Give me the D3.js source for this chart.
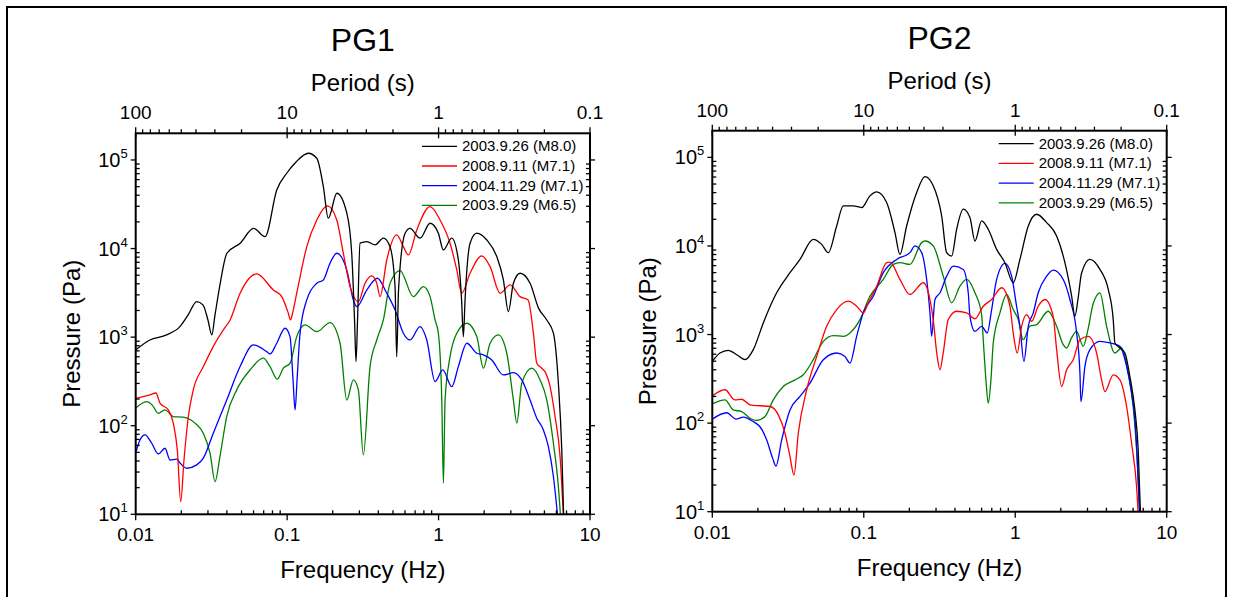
<!DOCTYPE html>
<html><head><meta charset="utf-8">
<script src="https://cdn.jsdelivr.net/npm/d3@7"></script>
<style>body{margin:0;background:#fff;} svg{display:block;} text{font-family:"Liberation Sans",Arial,Helvetica,sans-serif;fill:#000;}</style>
</head><body><svg id="c" width="1233" height="597"></svg>
<script>
// ---------------- data ----------------
const seriesNames = ["2003.9.26 (M8.0)", "2008.9.11 (M7.1)", "2004.11.29 (M7.1)", "2003.9.29 (M6.5)"];
const seriesColors = ["#000000", "#ff0000", "#0000ff", "#008000"];
const panelTitles = ["PG1", "PG2"];
const freqTicks = [0.01, 0.1, 1, 10];
const freqTickLabels = ["0.01", "0.1", "1", "10"];
const periodTicks = [100, 10, 1, 0.1];
const periodTickLabels = ["100", "10", "1", "0.1"];
const pressureTicks = [10, 100, 1000, 10000, 100000];
const pressureTickExponents = ["1", "2", "3", "4", "5"];

// PG1 spectra: [frequency Hz, pressure Pa]
const pg1_20030926 = [[0.01,718],[0.0124,929],[0.016,1060],[0.0196,1315],[0.0222,1780],[0.0253,2520],[0.0278,2310],[0.030,1560],[0.0318,1060],[0.0334,1780],[0.036,3880],[0.040,8850],[0.049,11500],[0.060,16900],[0.0715,13600],[0.0854,45800],[0.0994,70800],[0.1145,94900],[0.138,119000],[0.157,104500],[0.1734,50000],[0.187,22000],[0.213,42100],[0.248,25000],[0.267,8850],[0.2787,1560],[0.2851,530],[0.2917,1560],[0.303,11500],[0.336,12000],[0.381,11000],[0.432,13100],[0.478,10500],[0.516,3700],[0.529,600],[0.544,3400],[0.601,14900],[0.648,16900],[0.755,13100],[0.879,19300],[0.997,14900],[1.076,9640],[1.222,13100],[1.351,7430],[1.419,2630],[1.458,1010],[1.496,2630],[1.614,11500],[1.788,14900],[2.081,12500],[2.424,8100],[2.679,4420],[2.891,1940],[3.119,4060],[3.453,5260],[4.022,4060],[4.563,2140],[5.184,1560],[5.732,1110],[6.184,300],[6.511,53],[6.74,6.7]];
const pg1_20080911 = [[0.01,204],[0.0124,223],[0.0136,234],[0.01447,180],[0.01642,151],[0.01771,107],[0.01883,53],[0.01983,13.9],[0.02084,41],[0.02226,127],[0.024,254],[0.028,465],[0.0325,782],[0.0379,1206],[0.042,1563],[0.0489,3130],[0.063,5165],[0.0811,3410],[0.0921,2865],[0.1018,1862],[0.1053,1563],[0.1086,1862],[0.1157,3130],[0.1348,10500],[0.157,21020],[0.1844,30260],[0.2127,21020],[0.235,8850],[0.2604,3715],[0.2953,2518],[0.327,4056],[0.3622,4909],[0.3907,4056],[0.4108,2865],[0.4549,7430],[0.5294,14240],[0.5855,10500],[0.6317,8470],[0.7178,16220],[0.8788,29700],[1.023,21020],[1.191,11480],[1.319,5735],[1.423,3130],[1.614,5260],[1.929,8250],[2.189,6250],[2.548,3130],[2.968,3882],[3.453,2865],[3.9,2630],[4.229,1107],[4.453,507],[4.805,446],[5.052,405],[5.45,276],[5.88,127],[6.345,44.8],[6.74,6.7]];
const pg1_20041129 = [[0.01,49],[0.01067,69],[0.01152,78.8],[0.01276,63.4],[0.01411,48],[0.01561,55.7],[0.01685,41],[0.01866,41.9],[0.01962,38],[0.02172,33.1],[0.02528,36.1],[0.02796,43],[0.03254,82.3],[0.0399,195],[0.0489,465],[0.0598,817],[0.0733,686],[0.0771,646],[0.0854,853],[0.0969,1260],[0.1045,1014],[0.1094,329],[0.1128,151],[0.1163,329],[0.1217,1107],[0.1348,2630],[0.157,4056],[0.1734,4423],[0.192,6825],[0.2127,8850],[0.2476,5735],[0.2737,2630],[0.2883,2208],[0.3357,3404],[0.3943,4620],[0.4549,3130],[0.5161,2028],[0.5855,1107],[0.6483,929],[0.7547,1315],[0.8356,929],[0.9483,315],[1.066,426],[1.222,276],[1.351,465],[1.536,853],[1.788,658],[1.977,630],[2.245,553],[2.679,374],[3.119,398],[3.543,329],[4.022,195],[4.453,121.6],[4.923,89.7],[5.312,58],[5.732,26.7],[6.15,8.6]];
const pg1_20030929 = [[0.01,158],[0.01182,187],[0.01282,172],[0.01411,138],[0.01561,151],[0.01771,127],[0.02062,125],[0.02464,107],[0.02796,82.3],[0.03097,49],[0.03342,23.4],[0.036,44.8],[0.0399,127],[0.04647,254],[0.0569,426],[0.0696,578],[0.0771,465],[0.0862,335],[0.0944,446],[0.1045,507],[0.1157,1014],[0.1313,1374],[0.157,1153],[0.192,1458],[0.2236,853],[0.2476,195],[0.2737,329],[0.2953,254],[0.3187,46.8],[0.3528,465],[0.3907,929],[0.4319,1563],[0.4783,4056],[0.5568,5634],[0.6818,2865],[0.794,3715],[0.8788,2865],[0.9483,1563],[0.997,1107],[1.05,195],[1.076,22.4],[1.104,195],[1.191,603],[1.319,1107],[1.536,1435],[1.788,1014],[1.977,446],[2.189,853],[2.483,1059],[2.821,658],[3.119,195],[3.286,107],[3.543,302],[4.127,446],[4.682,329],[5.184,195],[5.732,63.4],[6.184,20.5],[6.445,7.6]];

// PG2 spectra: [frequency Hz, pressure Pa]
const pg2_20030926 = [[0.01,497],[0.01124,619],[0.01275,663],[0.01449,592],[0.01644,520],[0.01865,675],[0.02171,1353],[0.02527,2485],[0.02661,2960],[0.03258,4990],[0.03793,7050],[0.04642,11880],[0.05273,10420],[0.0583,8400],[0.06624,16800],[0.07322,28300],[0.08527,28300],[0.09685,27150],[0.1099,36750],[0.1217,40800],[0.1416,30930],[0.1607,14150],[0.1733,8030],[0.1919,16800],[0.2235,40150],[0.2535,60600],[0.2875,47700],[0.3268,21800],[0.3526,8400],[0.3804,7690],[0.4104,15420],[0.4538,25980],[0.5023,20900],[0.542,11370],[0.6,19140],[0.6634,15420],[0.7539,9150],[0.855,6470],[0.97,3840],[1.074,7050],[1.219,16800],[1.385,22800],[1.612,18360],[1.876,12950],[2.128,6470],[2.357,2710],[2.477,1607],[2.594,2485],[2.744,4990],[3.112,7050],[3.624,5430],[4.112,3225],[4.436,1475],[4.55,803],[4.91,705],[5.298,619],[5.716,336],[6.166,141],[6.486,49.8],[6.756,7]];
const pg2_20080911 = [[0.01,203],[0.01213,238],[0.01411,183],[0.01563,186],[0.01774,161],[0.02065,157],[0.02404,154],[0.02727,124],[0.0302,76.9],[0.03258,41.8],[0.03461,25.9],[0.03696,76.9],[0.04199,238],[0.04889,566],[0.05689,1239],[0.06624,1914],[0.07903,2377],[0.08978,2085],[0.09924,1757],[0.1071,2280],[0.1217,3515],[0.1416,6470],[0.1489,6570],[0.1733,4185],[0.2018,2830],[0.247,3840],[0.2735,2485],[0.2875,1475],[0.3042,592],[0.3184,400],[0.3333,592],[0.3613,1475],[0.4104,1832],[0.4778,1757],[0.542,1502],[0.6149,2085],[0.6987,2485],[0.8132,3372],[0.9226,2085],[0.97,1043],[1.031,619],[1.102,1239],[1.189,1680],[1.283,1412],[1.418,2085],[1.571,2485],[1.781,1607],[1.876,675],[2.024,259],[2.185,400],[2.415,520],[2.674,875],[3.033,955],[3.445,619],[3.718,308],[3.909,227],[4.436,351],[4.91,308],[5.436,154],[5.866,59.2],[6.328,19.1],[6.553,7]];
const pg2_20041129 = [[0.01,111],[0.01245,131],[0.01434,111],[0.01602,117],[0.01865,104],[0.02065,91],[0.02287,64.6],[0.02504,40],[0.02634,32.7],[0.02871,64.6],[0.03258,141],[0.03793,200],[0.04415,283],[0.05405,520],[0.06624,619],[0.07513,566],[0.0811,476],[0.08978,955],[0.09924,1757],[0.1156,2710],[0.1345,4990],[0.1649,7050],[0.2018,8400],[0.2178,10000],[0.2411,8400],[0.2602,4185],[0.2735,1757],[0.2807,955],[0.2951,2485],[0.3184,2960],[0.3526,4560],[0.3898,5920],[0.4538,5430],[0.4896,2960],[0.5023,1607],[0.542,1087],[0.6,1239],[0.6535,1043],[0.6987,1914],[0.7539,4185],[0.855,6350],[0.9467,4560],[1.021,2085],[1.074,1239],[1.141,497],[1.219,1239],[1.315,1757],[1.418,2960],[1.612,4560],[1.781,5340],[2.074,4185],[2.296,2485],[2.543,1043],[2.674,367],[2.715,175],[2.885,437],[3.112,675],[3.624,837],[4.219,803],[4.91,735],[5.436,437],[5.866,218],[6.262,77],[6.653,7]];
const pg2_20030929 = [[0.01,165],[0.01213,183],[0.01376,141],[0.01563,135],[0.01774,113.5],[0.01964,107],[0.02228,118.5],[0.02527,183],[0.02942,259],[0.03515,308],[0.03989,351],[0.04642,520],[0.05405,837],[0.06292,973],[0.07322,955],[0.0811,1043],[0.09439,1475],[0.1099,2710],[0.1345,4185],[0.1565,6190],[0.1733,6470],[0.2018,6190],[0.2411,10900],[0.2535,11370],[0.2875,10000],[0.3348,4560],[0.3804,2280],[0.4315,3515],[0.4778,4185],[0.542,2960],[0.6,1680],[0.6149,875],[0.6406,308],[0.6634,168],[0.6912,308],[0.7159,803],[0.7925,1757],[0.8775,2830],[0.97,1914],[1.047,1475],[1.129,875],[1.25,1239],[1.385,1294],[1.651,1832],[1.876,1239],[2.074,769],[2.185,705],[2.357,923],[2.543,1087],[2.811,735],[3.02,1135],[3.259,2180],[3.624,2960],[4.012,1239],[4.55,619],[5.04,705],[5.57,367],[6.009,154],[6.328,49.8],[6.706,7]];

const pg1Series = [pg1_20030926, pg1_20080911, pg1_20041129, pg1_20030929];
const pg2Series = [pg2_20030926, pg2_20080911, pg2_20041129, pg2_20030929];

// ---------------- layout ----------------
const panels = [
  {title: panelTitles[0], series: pg1Series, left: 135.7, right: 590, top: 133.3, bottom: 514.3},
  {title: panelTitles[1], series: pg2Series, left: 712.3, right: 1166.7, top: 130.7, bottom: 511.7}
];

const svg = d3.select("#c");
svg.append("rect").attr("x", 7).attr("y", 7).attr("width", 1219).attr("height", 620)
  .attr("fill", "none").attr("stroke", "#000").attr("stroke-width", 2);

function minorLog(lo, hi) {
  const out = [];
  for (let e = Math.floor(Math.log10(lo)); e <= Math.ceil(Math.log10(hi)); e++) {
    for (let k = 2; k <= 9; k++) {
      const v = k * Math.pow(10, e);
      if (v > lo * 1.0001 && v < hi * 0.9999) out.push(v);
    }
  }
  return out;
}

panels.forEach((p, pi) => {
  const x = d3.scaleLog().domain([0.01, 10]).range([p.left, p.right]);
  const y = d3.scaleLog().domain([10, 2e5]).range([p.bottom, p.top]);
  const g = svg.append("g");
  const cx = (p.left + p.right) / 2;
  const cy = (p.top + p.bottom) / 2;

  const clipId = "clip" + pi;
  svg.append("defs").append("clipPath").attr("id", clipId)
    .append("rect").attr("x", p.left).attr("y", p.top)
    .attr("width", p.right - p.left).attr("height", p.bottom - p.top);

  // curves
  const line = d3.line().x(d => x(d[0])).y(d => y(d[1])).curve(d3.curveMonotoneX);
  const cg = g.append("g").attr("clip-path", `url(#${clipId})`);
  p.series.slice().reverse().forEach((s, ri) => {
    const i = p.series.length - 1 - ri;
    cg.append("path").attr("d", line(s)).attr("fill", "none")
      .attr("stroke", seriesColors[i]).attr("stroke-width", 1.3).attr("stroke-linejoin", "round");
  });

  // frame
  g.append("rect").attr("x", p.left).attr("y", p.top).attr("width", p.right - p.left)
    .attr("height", p.bottom - p.top).attr("fill", "none").attr("stroke", "#000").attr("stroke-width", 2);

  const tk = g.append("g").attr("stroke", "#000").attr("stroke-width", 1.3);
  // bottom axis
  freqTicks.forEach(f => tk.append("line").attr("x1", x(f)).attr("x2", x(f)).attr("y1", p.bottom).attr("y2", p.bottom + 6));
  minorLog(0.01, 10).forEach(f => tk.append("line").attr("x1", x(f)).attr("x2", x(f)).attr("y1", p.bottom).attr("y2", p.bottom - 4));
  // top axis (period)
  periodTicks.forEach(t => tk.append("line").attr("x1", x(1 / t)).attr("x2", x(1 / t)).attr("y1", p.top - 6).attr("y2", p.top + 5));
  minorLog(0.1, 100).forEach(t => tk.append("line").attr("x1", x(1 / t)).attr("x2", x(1 / t)).attr("y1", p.top).attr("y2", p.top - 4));
  // left & right axes
  pressureTicks.forEach(v => {
    tk.append("line").attr("x1", p.left - 5).attr("x2", p.left).attr("y1", y(v)).attr("y2", y(v));
    tk.append("line").attr("x1", p.right).attr("x2", p.right + 5).attr("y1", y(v)).attr("y2", y(v));
  });
  minorLog(10, 2e5).forEach(v => {
    tk.append("line").attr("x1", p.left).attr("x2", p.left + 4).attr("y1", y(v)).attr("y2", y(v));
    tk.append("line").attr("x1", p.right - 4).attr("x2", p.right).attr("y1", y(v)).attr("y2", y(v));
  });

  // tick labels
  freqTicks.forEach((f, i) => g.append("text").attr("x", x(f)).attr("y", p.bottom + 27)
    .attr("text-anchor", "middle").attr("font-size", 19).text(freqTickLabels[i]));
  periodTicks.forEach((t, i) => g.append("text").attr("x", x(1 / t)).attr("y", p.top - 14)
    .attr("text-anchor", "middle").attr("font-size", 19).text(periodTickLabels[i]));
  pressureTicks.forEach((v, i) => {
    const t = g.append("text").attr("x", p.left - 8).attr("y", y(v) + 7)
      .attr("text-anchor", "end").attr("font-size", 20);
    t.append("tspan").text("10");
    t.append("tspan").attr("font-size", 13).attr("dy", -9).text(pressureTickExponents[i]);
  });

  // titles
  g.append("text").attr("x", cx).attr("y", p.top - 82).attr("text-anchor", "middle")
    .attr("font-size", 32).text(p.title);
  g.append("text").attr("x", cx).attr("y", p.top - 42).attr("text-anchor", "middle")
    .attr("font-size", 24).text("Period (s)");
  g.append("text").attr("x", cx).attr("y", p.bottom + 64).attr("text-anchor", "middle")
    .attr("font-size", 24).text("Frequency (Hz)");
  g.append("text").attr("transform", `translate(${p.left - 56},${cy + 10}) rotate(-90)`)
    .attr("text-anchor", "middle").attr("font-size", 24).text("Pressure (Pa)");

  // legend
  const lx = p.right - 168;
  seriesNames.forEach((n, i) => {
    const ly = p.top + 13 + i * 19.7;
    g.append("line").attr("x1", lx).attr("x2", lx + 35).attr("y1", ly).attr("y2", ly)
      .attr("stroke", seriesColors[i]).attr("stroke-width", 1.3);
    g.append("text").attr("x", lx + 40).attr("y", ly + 5).attr("font-size", 15).text(n);
  });
});
</script></body></html>
